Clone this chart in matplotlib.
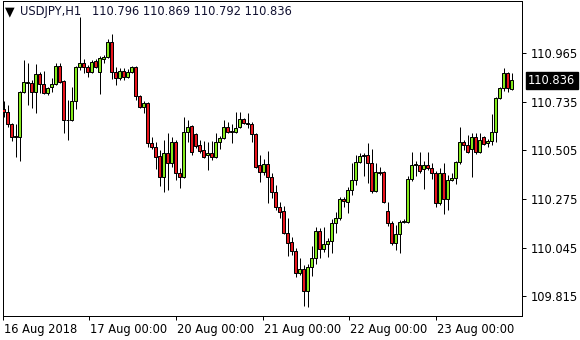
import matplotlib.pyplot as plt
from matplotlib.transforms import ScaledTranslation, blended_transform_factory

# USDJPY H1 candles
symbol = "USDJPY,H1"

opens = [
    110.700, 110.686, 110.629, 110.573, 110.568, 110.781, 110.823, 110.823, 110.781, 110.866,
    110.818, 110.776, 110.804, 110.818, 110.904, 110.833, 110.648, 110.648, 110.738, 110.899,
    110.918, 110.899, 110.875, 110.927, 110.875, 110.937, 110.946, 111.017, 110.875, 110.847,
    110.880, 110.852, 110.875, 110.899, 110.762, 110.710, 110.729, 110.540, 110.521, 110.478,
    110.379, 110.492, 110.445, 110.544, 110.398, 110.379, 110.592, 110.620, 110.582, 110.530,
    110.506, 110.483, 110.492, 110.473, 110.544, 110.563, 110.615, 110.596, 110.592, 110.615,
    110.653, 110.634, 110.629, 110.582, 110.436, 110.402, 110.440, 110.379, 110.308, 110.237,
    110.218, 110.114, 110.071, 110.029, 109.925, 109.944, 109.840, 109.953, 109.996, 110.123,
    110.038, 110.062, 110.076, 110.161, 110.185, 110.275, 110.261, 110.317, 110.365, 110.450,
    110.478, 110.483, 110.445, 110.313, 110.402, 110.402, 110.218, 110.161, 110.067, 110.109,
    110.166, 110.166, 110.369, 110.436, 110.436, 110.417, 110.436, 110.421, 110.398, 110.256,
    110.398, 110.275, 110.365, 110.374, 110.450, 110.544, 110.530, 110.511, 110.568, 110.497,
    110.568, 110.540, 110.549, 110.592, 110.752, 110.800, 110.870, 110.796,
]
highs = [
    110.738, 110.719, 110.634, 110.629, 110.785, 110.932, 110.918, 110.837, 110.913, 110.875,
    110.880, 110.804, 110.847, 110.918, 110.918, 110.837, 110.743, 110.804, 110.904, 111.135,
    110.937, 110.908, 110.932, 110.937, 110.951, 110.956, 111.031, 111.055, 110.899, 110.894,
    110.894, 110.889, 110.904, 110.904, 110.766, 110.738, 110.733, 110.568, 110.544, 110.506,
    110.554, 110.587, 110.568, 110.554, 110.421, 110.662, 110.648, 110.625, 110.587, 110.554,
    110.549, 110.544, 110.549, 110.587, 110.573, 110.648, 110.639, 110.629, 110.686, 110.686,
    110.658, 110.681, 110.639, 110.587, 110.483, 110.464, 110.502, 110.398, 110.341, 110.261,
    110.242, 110.185, 110.095, 110.043, 109.996, 109.963, 109.967, 110.052, 110.142, 110.138,
    110.142, 110.090, 110.180, 110.213, 110.284, 110.284, 110.332, 110.445, 110.483, 110.492,
    110.492, 110.540, 110.511, 110.445, 110.426, 110.407, 110.261, 110.171, 110.152, 110.175,
    110.180, 110.384, 110.497, 110.454, 110.497, 110.454, 110.497, 110.445, 110.407, 110.421,
    110.445, 110.388, 110.398, 110.454, 110.615, 110.554, 110.577, 110.587, 110.587, 110.587,
    110.573, 110.558, 110.677, 110.757, 110.804, 110.894, 110.875, 110.869,
]
lows = [
    110.662, 110.615, 110.549, 110.473, 110.454, 110.776, 110.719, 110.705, 110.681, 110.776,
    110.771, 110.766, 110.781, 110.814, 110.823, 110.587, 110.554, 110.644, 110.700, 110.885,
    110.870, 110.852, 110.870, 110.894, 110.771, 110.918, 110.941, 110.842, 110.814, 110.837,
    110.837, 110.847, 110.870, 110.743, 110.705, 110.681, 110.521, 110.511, 110.417, 110.336,
    110.308, 110.317, 110.426, 110.365, 110.327, 110.374, 110.544, 110.483, 110.516, 110.492,
    110.469, 110.412, 110.459, 110.469, 110.511, 110.558, 110.587, 110.540, 110.587, 110.610,
    110.629, 110.610, 110.544, 110.421, 110.355, 110.388, 110.256, 110.280, 110.223, 110.185,
    110.109, 110.005, 110.010, 109.906, 109.915, 109.769, 109.764, 109.911, 109.967, 109.996,
    110.024, 110.000, 110.019, 110.114, 110.175, 110.237, 110.209, 110.294, 110.341, 110.445,
    110.384, 110.350, 110.303, 110.308, 110.388, 110.256, 110.147, 110.057, 110.034, 110.019,
    110.161, 110.161, 110.360, 110.384, 110.398, 110.322, 110.412, 110.369, 110.237, 110.246,
    110.204, 110.223, 110.360, 110.346, 110.440, 110.506, 110.492, 110.379, 110.488, 110.492,
    110.530, 110.521, 110.530, 110.544, 110.748, 110.785, 110.781, 110.792,
]
closes = [
    110.686, 110.629, 110.568, 110.568, 110.781, 110.828, 110.828, 110.781, 110.866, 110.818,
    110.776, 110.800, 110.818, 110.904, 110.828, 110.648, 110.647, 110.738, 110.899, 110.918,
    110.899, 110.875, 110.922, 110.899, 110.941, 110.946, 111.017, 110.875, 110.847, 110.880,
    110.852, 110.875, 110.899, 110.762, 110.710, 110.729, 110.540, 110.521, 110.473, 110.379,
    110.492, 110.445, 110.544, 110.398, 110.379, 110.592, 110.615, 110.497, 110.525, 110.502,
    110.473, 110.492, 110.473, 110.544, 110.563, 110.615, 110.592, 110.592, 110.610, 110.653,
    110.634, 110.629, 110.582, 110.426, 110.402, 110.440, 110.379, 110.308, 110.237, 110.213,
    110.114, 110.067, 110.029, 109.925, 109.944, 109.840, 109.953, 109.996, 110.123, 110.038,
    110.062, 110.076, 110.161, 110.185, 110.275, 110.265, 110.317, 110.365, 110.450, 110.478,
    110.483, 110.445, 110.313, 110.402, 110.398, 110.261, 110.161, 110.067, 110.109, 110.166,
    110.171, 110.369, 110.436, 110.440, 110.407, 110.436, 110.421, 110.398, 110.256, 110.398,
    110.275, 110.365, 110.374, 110.450, 110.544, 110.530, 110.497, 110.568, 110.497, 110.554,
    110.535, 110.549, 110.592, 110.752, 110.800, 110.870, 110.800, 110.836,
]

price_ticks = [110.965, 110.735, 110.505, 110.275, 110.045, 109.815]
date_labels = ["16 Aug 2018", "17 Aug 00:00", "20 Aug 00:00",
               "21 Aug 00:00", "22 Aug 00:00", "23 Aug 00:00"]
date_pos = [-0.15, 21.45, 43.1, 64.8, 86.4, 108.05]   # in bar units

bull = "#84ea1c"
bear = "#e8141c"
px = 0.72  # one pixel in points at dpi 100

fig = plt.figure(figsize=(5.8, 3.4), dpi=100)
ax = fig.add_axes([2.5 / 580, 24 / 340, 519.5 / 580, 315 / 340])

x = list(range(len(opens)))
ax.vlines(x, lows, highs, color="black", linewidth=px, zorder=2)
bottoms = [min(o, c) for o, c in zip(opens, closes)]
heights = [abs(c - o) for o, c in zip(opens, closes)]
colors = [bull if c >= o else bear for o, c in zip(opens, closes)]
ax.bar(x, heights, bottom=bottoms, width=0.62, color=colors,
       edgecolor="black", linewidth=px, zorder=3)

ax.set_xlim(-0.25, 129.6)
ax.set_ylim(109.722, 111.211)

for s in ax.spines.values():
    s.set_linewidth(px)
    s.set_color("black")

ax.yaxis.tick_right()
ax.set_yticks(price_ticks)
ax.set_yticklabels([f"{p:.3f}" for p in price_ticks])
ax.set_xticks(date_pos)
ax.set_xticklabels(date_labels)
ax.tick_params(axis="both", direction="out", length=3, width=px,
               labelsize=8.3, colors="black", pad=2)
ax.tick_params(axis="y", pad=3)
for lab in ax.get_xticklabels():
    lab.set_horizontalalignment("left")
    lab.set_transform(lab.get_transform() + ScaledTranslation(1 / 100, 0, fig.dpi_scale_trans))

# last price marker on the price scale
trans = blended_transform_factory(ax.transAxes, ax.transData)
ax.annotate(f"{closes[-1]:.3f}", xy=(1.0, closes[-1]), xycoords=trans,
            xytext=(6, 0), textcoords="offset pixels", ha="left", va="center",
            fontsize=8.3, color="white", annotation_clip=False,
            bbox=dict(boxstyle="square,pad=0.2", facecolor="black", edgecolor="black"))

# header line
head = f"{symbol}   {opens[-1]:.3f} {highs[-1]:.3f} {lows[-1]:.3f} {closes[-1]:.3f}"
fig.text(5 / 580, 1 - 12 / 340, "\u25bc", fontsize=9, va="center", ha="left", color="black")
fig.text(20 / 580, 1 - 12 / 340, head, fontsize=8.3, va="center", ha="left", color="#101030")

fig.savefig("out.png", dpi=100)
